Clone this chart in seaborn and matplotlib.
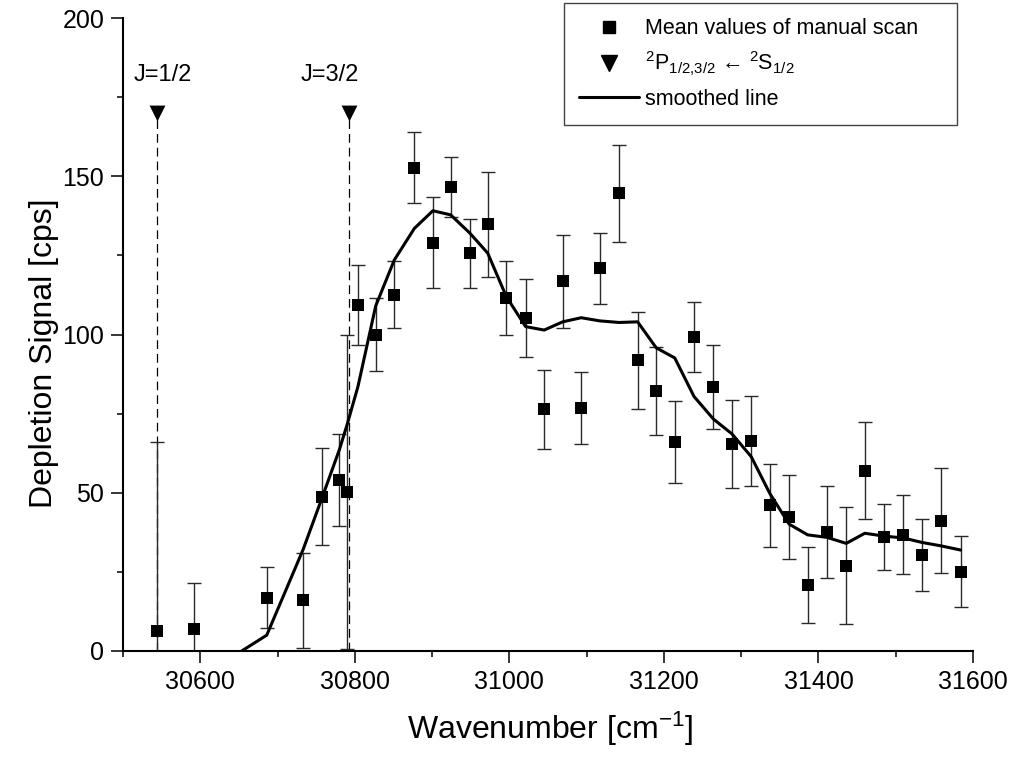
import numpy as np
import pandas as pd
import matplotlib
matplotlib.use("Agg")
import matplotlib.pyplot as plt
import seaborn as sns
from matplotlib.lines import Line2D
from matplotlib.ticker import MultipleLocator

# ---------------- data ----------------
wavenumber = [30544, 30592, 30686, 30733, 30757, 30780, 30790, 30804, 30827, 30851,
              30877, 30901, 30924, 30949, 30972, 30996, 31021, 31045, 31069, 31093,
              31117, 31142, 31166, 31190, 31214, 31239, 31264, 31288, 31313, 31337,
              31362, 31386, 31411, 31436, 31460, 31485, 31510, 31534, 31559, 31584]
signal = [6.2, 7.0, 16.9, 16.0, 48.8, 54.0, 50.2, 109.3, 100.0, 112.6,
          152.7, 129.0, 146.7, 125.6, 134.8, 111.4, 105.3, 76.4, 116.8, 76.8,
          120.9, 144.6, 91.9, 82.2, 66.1, 99.3, 83.5, 65.4, 66.3, 46.1,
          42.4, 20.9, 37.7, 27.0, 57.0, 36.1, 36.7, 30.4, 41.2, 25.1]
error = [59.7, 14.6, 9.6, 15.0, 15.2, 14.5, 49.6, 12.6, 11.4, 10.5,
         11.2, 14.3, 9.5, 11.0, 16.6, 11.7, 12.3, 12.5, 14.7, 11.3,
         11.2, 15.4, 15.3, 14.0, 12.9, 11.0, 13.3, 13.9, 14.2, 13.1,
         13.2, 12.0, 14.5, 18.5, 15.4, 10.5, 12.5, 11.4, 16.7, 11.1]
smoothed = [-25.0, -9.5, 5.0, 32.0, 48.0, 63.6, 71.5, 83.5, 109.0, 123.5,
            133.5, 139.1, 137.8, 132.0, 125.7, 112.0, 102.5, 101.4, 104.0, 105.3,
            104.3, 103.8, 104.0, 95.8, 92.6, 80.4, 73.3, 68.6, 61.4, 49.8,
            40.1, 36.7, 35.9, 34.0, 37.2, 36.3, 35.7, 34.3, 33.2, 31.9]

transition_pos = [30544, 30792]
transition_height = [170, 170]
transition_labels = ["J=1/2", "J=3/2"]
transition_label_x = [30552, 30767]

legend_labels = ["Mean values of manual scan",
                 r"$^{2}$P$_{1/2{,}3/2}$ ← $^{2}$S$_{1/2}$",
                 "smoothed line"]

# ---------------- style ----------------
sns.set_theme(style="ticks")
plt.rcParams["font.family"] = ["Liberation Sans", "DejaVu Sans"]
plt.rcParams["mathtext.fontset"] = "custom"
plt.rcParams["mathtext.rm"] = "Liberation Sans"
plt.rcParams["mathtext.it"] = "Liberation Sans"
plt.rcParams["mathtext.bf"] = "Liberation Sans:bold"
plt.rcParams["mathtext.default"] = "regular"
for key in ["text.color", "axes.labelcolor", "xtick.color", "ytick.color",
            "xtick.labelcolor", "ytick.labelcolor", "axes.edgecolor"]:
    plt.rcParams[key] = "black"

W, H = 1013, 758
fig = plt.figure(figsize=(W / 100, H / 100), dpi=100)
ax = fig.add_axes([123 / W, 1 - 651 / H, 850 / W, 633 / H])

df = pd.DataFrame({"wn": wavenumber, "sig": signal, "err": error, "smooth": smoothed})

ax.errorbar(df["wn"], df["sig"], yerr=df["err"], fmt="none", ecolor="#2a2a2a",
            elinewidth=1.0, capsize=5, capthick=1.0, zorder=2)
sns.lineplot(data=df, x="wn", y="smooth", color="black", lw=2.2, ax=ax,
             sort=False, estimator=None, zorder=3)
sns.scatterplot(data=df, x="wn", y="sig", marker="s", s=64, color="black",
                linewidth=0, ax=ax, zorder=4)

ax.vlines(transition_pos, 0, transition_height, colors="black",
          linestyles=(0, (7, 4)), lw=0.9, zorder=1)
sns.scatterplot(x=transition_pos, y=transition_height, marker="v", s=130,
                color="black", linewidth=0, ax=ax, zorder=4)
for xl, lab in zip(transition_label_x, transition_labels):
    ax.text(xl, 180, lab, ha="center", va="baseline", fontsize=17, color="black")

ax.set_xlim(30500, 31600)
ax.set_ylim(0, 200)
ax.xaxis.set_major_locator(MultipleLocator(200))
ax.xaxis.set_minor_locator(MultipleLocator(100))
ax.yaxis.set_major_locator(MultipleLocator(50))
ax.yaxis.set_minor_locator(MultipleLocator(25))
ax.tick_params(which="major", length=8.5, width=1.1, direction="out",
               labelsize=18, pad=5, color="black", labelcolor="black")
ax.tick_params(which="minor", length=4.5, width=1.1, direction="out", color="black")

for side in ["top", "right"]:
    ax.spines[side].set_visible(False)
for side in ["left", "bottom"]:
    ax.spines[side].set_linewidth(1.5)
    ax.spines[side].set_color("black")

ax.set_xlabel("Wavenumber [cm$^{-1}$]", fontsize=23, color="black")
ax.set_ylabel("Depletion Signal [cps]", fontsize=23, color="black")
ax.xaxis.set_label_coords(0.502, -0.093)
ax.yaxis.set_label_coords(-0.075, 0.47)

handles = [Line2D([], [], ls="none", marker="s", ms=8, color="black"),
           Line2D([], [], ls="none", marker="v", ms=11, color="black"),
           Line2D([], [], color="black", lw=2.2)]
leg = ax.legend(handles, legend_labels, loc="upper left",
                bbox_to_anchor=(564 / W, 0.5, 393 / W, 0.5 - 3 / H),
                bbox_transform=fig.transFigure, mode="expand", borderaxespad=0,
                fontsize=15.5, handlelength=2.8, handletextpad=0.25,
                labelspacing=0.5, borderpad=0.7, frameon=True, fancybox=False,
                framealpha=1, edgecolor="#444444")
leg.get_frame().set_linewidth(1.0)
for t in leg.get_texts():
    t.set_color("black")

fig.savefig("out.png", dpi=100)
